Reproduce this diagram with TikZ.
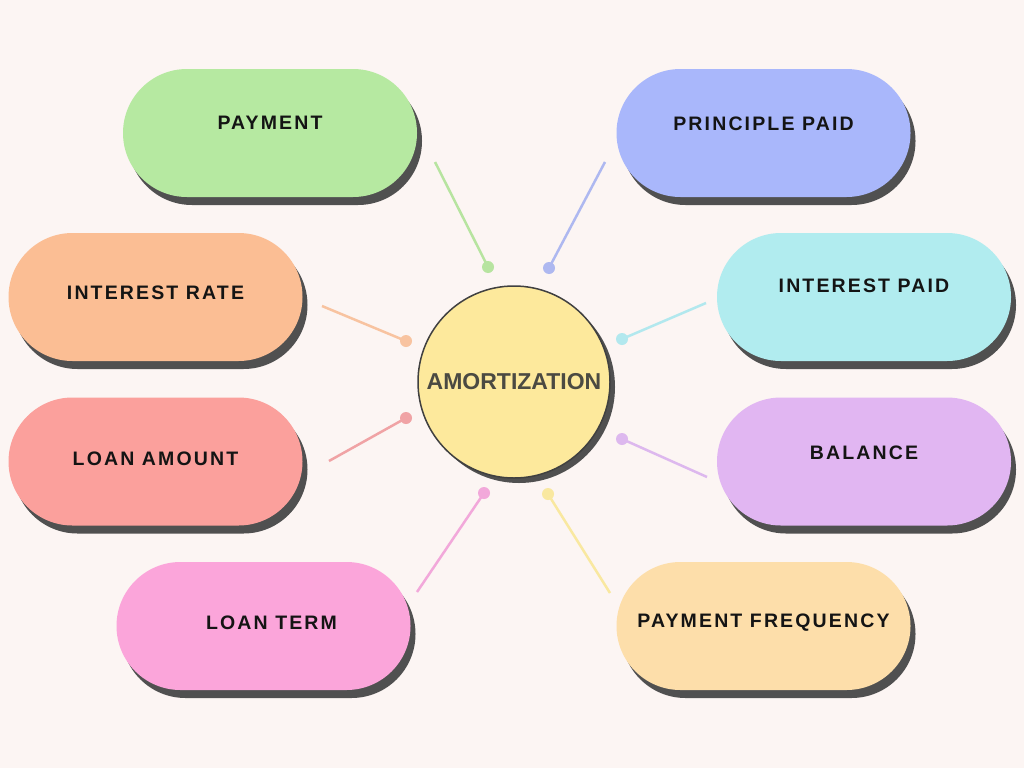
\documentclass[tikz,border=0pt]{standalone}
\usepackage{fontspec}
\usetikzlibrary{shadows, positioning}
\newfontfamily\pillfont[LetterSpace=11]{Liberation Sans}
\newfontfamily\hubfont{Liberation Sans}

\definecolor{bgpink}{HTML}{FCF5F3}
\definecolor{shadowgray}{HTML}{505050}
\definecolor{hubyellow}{HTML}{FDE99C}
\definecolor{hubtext}{HTML}{4B4A42}
\definecolor{pillgreen}{HTML}{B6E9A1}
\definecolor{pillblue}{HTML}{A9B7FB}
\definecolor{pillorange}{HTML}{FBBE94}
\definecolor{pillcyan}{HTML}{B1ECEF}
\definecolor{pillred}{HTML}{FBA09C}
\definecolor{pillpurple}{HTML}{E1B6F2}
\definecolor{pillpink}{HTML}{FBA5DA}
\definecolor{pillpeach}{HTML}{FDDEAA}
\definecolor{linkgreen}{HTML}{B7E4A0}
\definecolor{linkblue}{HTML}{AEB8F0}
\definecolor{linkorange}{HTML}{F8C3A0}
\definecolor{linkcyan}{HTML}{B2E8EE}
\definecolor{linkred}{HTML}{F0A3A5}
\definecolor{linkpurple}{HTML}{DDB8EE}
\definecolor{linkpink}{HTML}{F2A8DA}
\definecolor{linkyellow}{HTML}{F9E8A0}

\tikzset{
	pill/.style={
		rectangle, rounded corners=64pt,
		minimum width=294pt, minimum height=128pt,
		inner sep=0pt,
		text=black!92,
		font=\pillfont\bfseries\fontsize{19.5}{19.5}\selectfont,
		text height=14pt,
		drop shadow={shadow xshift=5pt, shadow yshift=-8pt, fill=shadowgray, opacity=1}
	},
	hub/.style={
		circle, minimum size=192pt, inner sep=0pt,
		draw=black!75, line width=1.5pt, fill=hubyellow,
		text=hubtext,
		font=\hubfont\bfseries\fontsize{23}{23}\selectfont,
		drop shadow={shadow xshift=5pt, shadow yshift=-5pt, fill=shadowgray, opacity=1}
	},
	dot/.style={circle, minimum size=12pt, inner sep=0pt},
	link/.style={line width=2.5pt}
}

\begin{document}
\begin{tikzpicture}[x=1pt,y=-1pt]

	\fill[bgpink] (0,0) rectangle (1024,768);

	% centre
	\node[hub] (amort) at (514,382) {AMORTIZATION};

	% left column
	\node[pill, fill=pillgreen,  text depth=22pt] (payment)   at (270,133)   {PAYMENT};
	\node[pill, fill=pillorange, text depth=10pt] (intrate)   at (155.5,297) {INTEREST RATE};
	\node[pill, fill=pillred,    text depth=6pt]  (loanamt)   at (155.5,461.5) {LOAN AMOUNT};
	\node[pill, fill=pillpink,   text depth=8pt]  (loanterm)  at (263.5,626) {\hspace{16pt}LOAN TERM};

	% right column
	\node[pill, fill=pillblue,   text depth=19pt] (principle) at (763.5,133) {PRINCIPLE PAID};
	\node[pill, fill=pillcyan,   text depth=23pt] (intpaid)   at (864,297)   {INTEREST PAID};
	\node[pill, fill=pillpurple, text depth=19pt] (balance)   at (864,461.5) {BALANCE};
	\node[pill, fill=pillpeach,  text depth=12pt] (payfreq)   at (763.5,626) {PAYMENT FREQUENCY};

	% connectors: dot near the circle, free end near the pill
	\foreach \n/\col/\dx/\dy/\ex/\ey in {
		pay/linkgreen/488/267/435/162,
		prin/linkblue/549/268/605/162,
		irate/linkorange/406/341/322/306,
		ipaid/linkcyan/622/339/706/303,
		lamt/linkred/406/418/329/461,
		bal/linkpurple/622/439/707/477,
		lterm/linkpink/484/493/417/592,
		pfreq/linkyellow/548/494/610/593} {
		\node[dot, fill=\col] (\n dot) at (\dx,\dy) {};
		\coordinate (\n end) at (\ex,\ey);
		\draw[link, \col] (\n dot.center) -- (\n end);
	}
\end{tikzpicture}
\end{document}
